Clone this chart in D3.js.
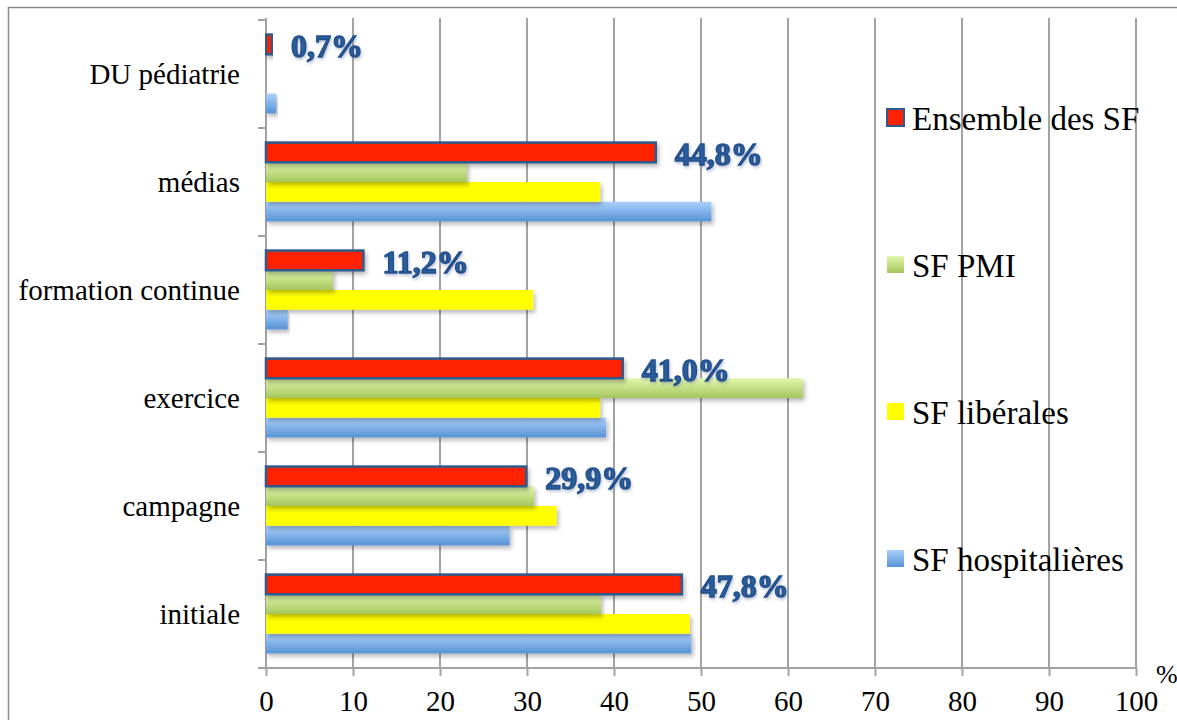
<!DOCTYPE html>
<html><head><meta charset="utf-8">
<script src="https://cdn.jsdelivr.net/npm/d3@7"></script>
<style>body{margin:0;background:#fff}svg{display:block}</style>
</head><body>
<svg id="c" width="1177" height="720"></svg>
<script>
// ---- data ----
const categories = ["DU pédiatrie", "médias", "formation continue", "exercice", "campagne", "initiale"];
const seriesNames = ["Ensemble des SF", "SF PMI", "SF libérales", "SF hospitalières"];
const ensemble = [0.7, 44.8, 11.2, 41.0, 29.9, 47.8];
const pmi = [0, 23.1, 7.7, 61.7, 30.8, 38.5];
const liberales = [0, 38.4, 30.7, 38.4, 33.4, 48.7];
const hospitalieres = [1.2, 51.2, 2.5, 39.1, 28.0, 48.9];
const ensembleLabels = ["0,7%", "44,8%", "11,2%", "41,0%", "29,9%", "47,8%"];
const xTicks = [0, 10, 20, 30, 40, 50, 60, 70, 80, 90, 100];

const seriesValues = [ensemble, pmi, liberales, hospitalieres];

const svg = d3.select("#c");
const mLeft = 266, mRight = 1136, mTop = 20, mBottom = 668;
const serif = "'Liberation Serif', 'Times New Roman', serif";

// defs
const defs = svg.append("defs");
const g1 = defs.append("linearGradient").attr("id", "gGreen").attr("x1", 0).attr("y1", 0).attr("x2", 0).attr("y2", 1);
g1.append("stop").attr("offset", "0%").attr("stop-color", "#e2f8ad");
g1.append("stop").attr("offset", "100%").attr("stop-color", "#a4c75c");
const g2 = defs.append("linearGradient").attr("id", "gBlue").attr("x1", 0).attr("y1", 0).attr("x2", 0).attr("y2", 1);
g2.append("stop").attr("offset", "0%").attr("stop-color", "#acd0fb");
g2.append("stop").attr("offset", "100%").attr("stop-color", "#5793d6");
const f = defs.append("filter").attr("id", "shadow").attr("x", "-5%").attr("y", "-30%").attr("width", "115%").attr("height", "180%");
f.append("feDropShadow").attr("dx", 2).attr("dy", 3).attr("stdDeviation", 2).attr("flood-color", "#000").attr("flood-opacity", 0.28);
const ft = defs.append("filter").attr("id", "tshadow").attr("x", "-10%").attr("y", "-20%").attr("width", "130%").attr("height", "160%");
ft.append("feDropShadow").attr("dx", 1).attr("dy", 2).attr("stdDeviation", 1.5).attr("flood-color", "#6b7fa6").attr("flood-opacity", 0.45);

const fills = ["#ff2200", "url(#gGreen)", "#ffff00", "url(#gBlue)"];

// frame
svg.append("rect").attr("x", 8.5).attr("y", 7.5).attr("width", 1300).attr("height", 800)
  .attr("fill", "none").attr("stroke", "#8c8c8c").attr("stroke-width", 1.5);

// scales
const x = d3.scaleLinear().domain([0, 100]).range([mLeft, mRight]);
const y = d3.scaleBand().domain(categories).range([mTop, mBottom]).paddingInner(0.27).paddingOuter(0.135);
const ys = d3.scaleBand().domain(seriesNames).range([0, y.bandwidth()]);

// grid
svg.append("g").selectAll("line").data(xTicks.slice(1)).join("line")
  .attr("x1", d => x(d)).attr("x2", d => x(d)).attr("y1", mTop - 2).attr("y2", mBottom)
  .attr("stroke", "#a3a3a3").attr("stroke-width", 2);

// x axis
const xAxis = svg.append("g").attr("transform", `translate(0,${mBottom})`)
  .call(d3.axisBottom(x).tickValues(xTicks).tickSize(8).tickPadding(14).tickFormat(d3.format("d")));
xAxis.select(".domain").attr("stroke", "#a3a3a3").attr("stroke-width", 2).attr("d", `M${mLeft - 8},0H${mRight}`);
xAxis.selectAll(".tick line").attr("stroke", "#a3a3a3").attr("stroke-width", 2);
xAxis.selectAll(".tick text").attr("fill", "#000").attr("font-family", serif).attr("font-size", 29)
  .attr("dy", "0.71em");

// y axis
const yb = d3.scaleLinear().domain([0, categories.length]).range([mTop, mBottom]);
const yAxisG = svg.append("g").attr("transform", `translate(${mLeft},0)`);
yAxisG.append("line").attr("x1", 0).attr("x2", 0).attr("y1", mTop - 2).attr("y2", mBottom)
  .attr("stroke", "#a3a3a3").attr("stroke-width", 2);
yAxisG.selectAll("line.t").data(d3.range(categories.length + 1)).join("line").attr("class", "t")
  .attr("x1", -8).attr("x2", 0).attr("y1", d => yb(d)).attr("y2", d => yb(d))
  .attr("stroke", "#a3a3a3").attr("stroke-width", 2);
svg.append("g").selectAll("text").data(categories).join("text")
  .attr("x", 240).attr("y", d => y(d) + y.bandwidth() / 2).attr("dy", "0.35em")
  .attr("text-anchor", "end").attr("font-family", serif).attr("font-size", 29).attr("fill", "#000")
  .text(d => d);

// bars (draw bottom series first so the stroke of red shows on top)
const barG = svg.append("g");
const drawOrder = [3, 2, 1, 0];
drawOrder.forEach(si => {
  barG.append("g").selectAll("rect").data(categories.map((c, i) => ({ c, v: seriesValues[si][i] })).filter(d => d.v > 0))
    .join("rect")
    .attr("x", x(0))
    .attr("y", d => y(d.c) + ys(seriesNames[si]))
    .attr("width", d => x(d.v) - x(0))
    .attr("height", ys.bandwidth())
    .attr("fill", fills[si])
    .attr("stroke", si === 0 ? "#2e5a8c" : "none")
    .attr("stroke-width", si === 0 ? 2.5 : 0)
    .attr("filter", "url(#shadow)");
});

// data labels
svg.append("g").selectAll("text").data(categories).join("text")
  .attr("x", (d, i) => x(ensemble[i]) + 19)
  .attr("y", d => y(d) + ys(seriesNames[0]) + ys.bandwidth() + 3)
  .attr("font-family", serif).attr("font-weight", "bold").attr("font-size", 32)
  .attr("fill", "#2b5d9b").attr("stroke", "#22508c").attr("stroke-width", 1.4)
  .attr("filter", "url(#tshadow)")
  .text((d, i) => ensembleLabels[i]);

// % unit
svg.append("text").attr("x", 1156).attr("y", 683)
  .attr("font-family", serif).attr("font-size", 26).attr("fill", "#000").text("%");

// legend
const legend = svg.append("g");
const legendBase = [130, 277, 424, 571];
seriesNames.forEach((n, i) => {
  legend.append("rect").attr("x", 887).attr("y", legendBase[i] - 21).attr("width", 17).attr("height", 17)
    .attr("fill", fills[i]).attr("stroke", i === 0 ? "#2e5a8c" : "none").attr("stroke-width", i === 0 ? 2 : 0);
  legend.append("text").attr("x", 912).attr("y", legendBase[i])
    .attr("font-family", serif).attr("font-size", 33).attr("fill", "#000").text(n);
});
</script>
</body></html>
